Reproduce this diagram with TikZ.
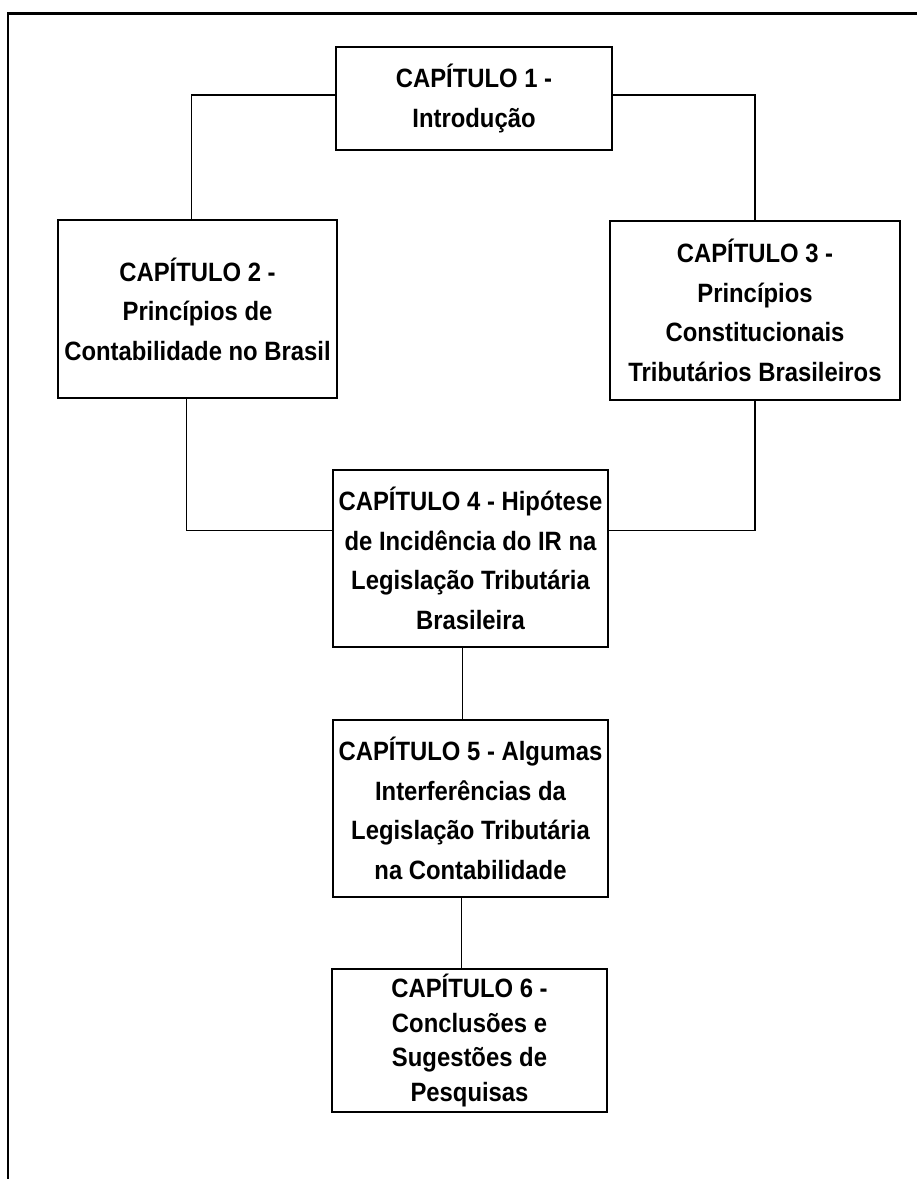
\documentclass[tikz,border=0pt]{standalone}
\usepackage{fontspec}
\setmainfont{Liberation Sans}[FakeStretch=0.9]
\begin{document}
\begin{tikzpicture}[x=1pt,y=-1pt,
  chap/.style={draw, line width=2.4pt, inner sep=0pt, align=center,
    font=\bfseries\fontsize{26.5}{39.5}\selectfont},
  link/.style={line width=1.2pt}]
\useasboundingbox (0,0) rectangle (917,1179);
\draw[line width=2pt] (8,1179) -- (8,13);
\draw[line width=3pt] (7,13) -- (917,13);

\node[chap, minimum width=276, minimum height=103] (c1) at (474,98.5) {CAPÍTULO 1 -\\Introdução};
\node[chap, minimum width=279, minimum height=178] (c2) at (197.5,309) {CAPÍTULO 2 -\\Princípios de\\Contabilidade no Brasil};
\node[chap, minimum width=290, minimum height=179] (c3) at (755,310.5) {CAPÍTULO 3 -\\Princípios\\Constitucionais\\Tributários Brasileiros};
\node[chap, minimum width=275, minimum height=177] (c4) at (470.5,558.5) {CAPÍTULO 4 - Hipótese\\de Incidência do IR na\\Legislação Tributária\\Brasileira};
\node[chap, minimum width=275, minimum height=177] (c5) at (470.5,808.5) {CAPÍTULO 5 - Algumas\\Interferências da\\Legislação Tributária\\na Contabilidade};
\node[chap, minimum width=275, minimum height=143,
  font=\bfseries\fontsize{26.5}{34.5}\selectfont] (c6) at (469.5,1040.5) {CAPÍTULO 6 -\\Conclusões e\\Sugestões de\\Pesquisas};

\draw[link] ([yshift=3.5pt]c1.west) -| ([xshift=-6pt]c2.north);
\draw[link] ([yshift=3.5pt]c1.east) -| (c3.north);
\draw[link] ([xshift=-11pt]c2.south) |- ([yshift=28pt]c4.west);
\draw[link] (c3.south) |- ([yshift=28pt]c4.east);
\draw[link] ([xshift=-8pt]c4.south) -- ([xshift=-8pt]c5.north);
\draw[link] ([xshift=-9pt]c5.south) -- ([xshift=-8pt]c6.north);
\end{tikzpicture}
\end{document}
